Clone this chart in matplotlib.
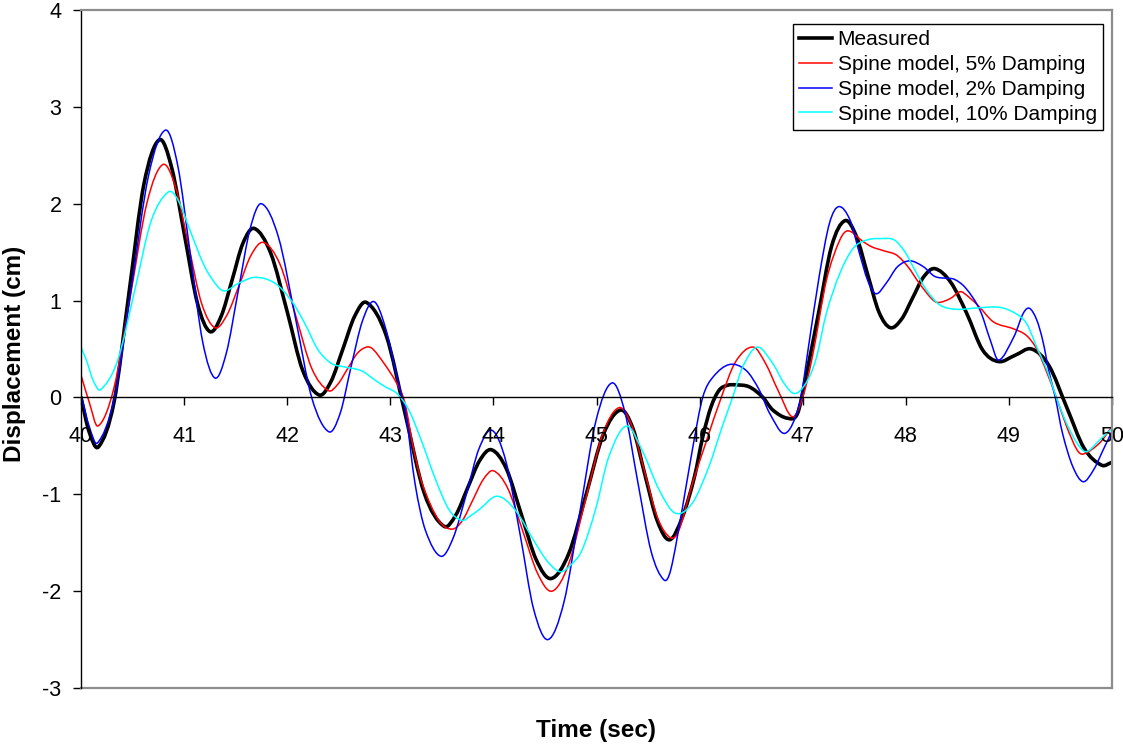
import matplotlib
matplotlib.use("Agg")
import matplotlib.pyplot as plt
from matplotlib.path import Path
from matplotlib.patches import PathPatch
from matplotlib.lines import Line2D

plt.rcParams['font.family'] = ['Liberation Sans', 'DejaVu Sans']
plt.rcParams['axes.unicode_minus'] = False

# Measured displacement
t_meas = [40.00, 40.08, 40.17, 40.32, 40.465, 40.61, 40.76, 40.88, 41.005, 41.13,
          41.25, 41.36, 41.465, 41.57, 41.68, 41.84, 42.00, 42.15, 42.31, 42.425,
          42.54, 42.655, 42.77, 42.96, 43.145, 43.33, 43.52, 43.635, 43.75, 43.865,
          43.98, 44.125, 44.27, 44.415, 44.56, 44.73, 44.90, 45.065, 45.235, 45.355,
          45.47, 45.59, 45.71, 45.835, 45.95, 46.03, 46.11, 46.19, 46.27, 46.35,
          46.48, 46.61, 46.71, 46.855, 46.95, 47.03, 47.15, 47.28, 47.41, 47.52,
          47.63, 47.74, 47.85, 47.96, 48.065, 48.17, 48.28, 48.435, 48.59, 48.745,
          48.90, 49.06, 49.22, 49.39, 49.56, 49.73, 49.90, 50.00]
d_meas = [0.00, -0.36, -0.51, -0.05, 1.075, 2.20, 2.66, 2.37, 1.67, 0.97,
          0.68, 0.84, 1.21, 1.59, 1.745, 1.49, 0.885, 0.28, 0.025, 0.165,
          0.50, 0.84, 0.98, 0.64, -0.175, -0.99, -1.33, -1.215, -0.935, -0.655,
          -0.54, -0.735, -1.205, -1.675, -1.87, -1.615, -1.0, -0.385, -0.13, -0.325,
          -0.80, -1.275, -1.47, -1.23, -0.82, -0.41, -0.10, 0.075, 0.125, 0.13,
          0.11, 0.005, -0.13, -0.215, -0.165, 0.21, 0.85, 1.56, 1.825, 1.665,
          1.27, 0.88, 0.72, 0.81, 1.025, 1.24, 1.33, 1.19, 0.87, 0.49,
          0.37, 0.435, 0.50, 0.325, -0.10, -0.525, -0.70, -0.67]

# Spine model, 5% damping
t_5 = [40.00, 40.08, 40.165, 40.32, 40.48, 40.64, 40.795, 40.92, 41.045, 41.17,
       41.30, 41.415, 41.535, 41.65, 41.77, 41.93, 42.085, 42.24, 42.40, 42.49,
       42.585, 42.68, 42.77, 42.83, 42.95, 43.06, 43.14, 43.22, 43.31, 43.47,
       43.60, 43.70, 43.80, 43.90, 44.00, 44.14, 44.285, 44.43, 44.57, 44.73,
       44.895, 45.06, 45.22, 45.345, 45.47, 45.595, 45.72, 45.80, 45.93, 46.06,
       46.21, 46.35, 46.52, 46.64, 46.76, 46.90, 47.00, 47.10, 47.23, 47.36,
       47.44, 47.585, 47.67, 47.80, 47.91, 48.02, 48.13, 48.25, 48.31, 48.43,
       48.52, 48.56, 48.70, 48.85, 49.04, 49.17, 49.27, 49.36, 49.46, 49.56,
       49.66, 49.72, 49.88, 50.00]
d_5 = [0.23, -0.05, -0.295, 0.10, 1.055, 2.01, 2.405, 2.16, 1.56, 0.97,
       0.72, 0.85, 1.16, 1.47, 1.60, 1.375, 0.835, 0.295, 0.07, 0.135,
       0.295, 0.455, 0.52, 0.50, 0.335, 0.15, -0.05, -0.50, -0.89, -1.27,
       -1.36, -1.27, -1.06, -0.85, -0.757, -0.94, -1.38, -1.82, -2.0, -1.72,
       -1.05, -0.38, -0.105, -0.30, -0.78, -1.25, -1.45, -1.37, -0.89, -0.47,
       0.0, 0.37, 0.52, 0.35, 0.075, -0.20, 0.0, 0.455, 1.21, 1.625,
       1.72, 1.61, 1.555, 1.51, 1.47, 1.35, 1.18, 1.02, 0.98, 1.02,
       1.09, 1.08, 0.95, 0.78, 0.71, 0.64, 0.50, 0.28, 0.0, -0.30,
       -0.54, -0.585, -0.47, -0.30]

# Spine model, 2% damping
t_2 = [40.00, 40.08, 40.16, 40.325, 40.49, 40.655, 40.82, 40.94, 41.06, 41.18,
       41.30, 41.41, 41.525, 41.64, 41.75, 41.915, 42.08, 42.24, 42.405, 42.515,
       42.62, 42.73, 42.84, 42.95, 43.08, 43.15, 43.24, 43.34, 43.49, 43.61,
       43.74, 43.86, 43.987, 44.12, 44.26, 44.39, 44.53, 44.685, 44.84, 44.995,
       45.15, 45.275, 45.40, 45.53, 45.655, 45.72, 45.835, 45.93, 46.03, 46.13,
       46.29, 46.45, 46.58, 46.68, 46.83, 46.97, 47.06, 47.16, 47.26, 47.35,
       47.46, 47.55, 47.63, 47.71, 47.81, 47.92, 48.04, 48.17, 48.28, 48.39,
       48.47, 48.58, 48.72, 48.82, 48.90, 49.05, 49.14, 49.20, 49.27, 49.33,
       49.39, 49.45, 49.52, 49.62, 49.72, 49.82, 49.915, 50.00]
d_2 = [0.03, -0.30, -0.47, 0.0, 1.145, 2.29, 2.76, 2.385, 1.48, 0.575,
       0.20, 0.46, 1.10, 1.74, 2.0, 1.655, 0.82, -0.01, -0.355, -0.16,
       0.32, 0.79, 0.99, 0.73, 0.145, -0.165, -0.89, -1.37, -1.64, -1.45,
       -0.99, -0.53, -0.34, -0.655, -1.42, -2.185, -2.50, -2.11, -1.175, -0.24,
       0.15, -0.15, -0.87, -1.59, -1.885, -1.78, -1.13, -0.54, 0.0, 0.21,
       0.34, 0.28, 0.075, -0.165, -0.37, -0.06, 0.55, 1.25, 1.80, 1.97,
       1.83, 1.49, 1.21, 1.07, 1.18, 1.35, 1.41, 1.35, 1.25, 1.23,
       1.22, 1.13, 0.90, 0.59, 0.385, 0.63, 0.87, 0.92, 0.80, 0.58,
       0.26, 0.0, -0.37, -0.715, -0.87, -0.75, -0.54, -0.35]

# Spine model, 10% damping
t_10 = [40.00, 40.06, 40.12, 40.19, 40.355, 40.52, 40.68, 40.845, 40.94, 41.07,
        41.20, 41.33, 41.40, 41.53, 41.69, 41.88, 42.04, 42.17, 42.30, 42.43,
        42.53, 42.72, 42.85, 42.95, 43.065, 43.18, 43.31, 43.44, 43.57, 43.695,
        43.78, 43.86, 44.035, 44.21, 44.41, 44.53, 44.65, 44.76, 44.86, 44.99,
        45.12, 45.29, 45.44, 45.61, 45.765, 45.93, 46.09, 46.22, 46.32, 46.42,
        46.56, 46.71, 46.82, 46.92, 47.03, 47.13, 47.23, 47.36, 47.49, 47.62,
        47.76, 47.89, 48.00, 48.07, 48.20, 48.33, 48.49, 48.70, 48.91, 49.06,
        49.17, 49.27, 49.37, 49.46, 49.56, 49.66, 49.75, 49.88, 50.00]
d_10 = [0.52, 0.36, 0.17, 0.08, 0.38, 1.10, 1.82, 2.12, 2.04, 1.69,
        1.35, 1.14, 1.10, 1.18, 1.24, 1.18, 1.0, 0.765, 0.49, 0.35,
        0.32, 0.275, 0.18, 0.11, 0.04, -0.13, -0.47, -0.85, -1.16, -1.27,
        -1.22, -1.16, -1.02, -1.16, -1.51, -1.70, -1.80, -1.72, -1.575, -1.16,
        -0.61, -0.295, -0.54, -0.96, -1.195, -1.09, -0.715, -0.30, 0.0, 0.32,
        0.52, 0.35, 0.145, 0.04, 0.145, 0.40, 0.87, 1.28, 1.54, 1.625,
        1.64, 1.625, 1.49, 1.35, 1.11, 0.955, 0.91, 0.925, 0.93, 0.87,
        0.765, 0.52, 0.28, 0.0, -0.27, -0.47, -0.56, -0.44, -0.32]

labels = ['Measured', 'Spine model, 5% Damping', 'Spine model, 2% Damping',
          'Spine model, 10% Damping']
x_ticks = list(range(40, 51))
y_ticks = list(range(-3, 5))


def smooth_path(t, v):
    # Excel-style smoothed line: Bezier segments through the read points
    n = len(t)
    slopes = []
    for i in range(n):
        a = max(i - 1, 0)
        b = min(i + 1, n - 1)
        slopes.append((v[b] - v[a]) / (t[b] - t[a]))
    verts = [(t[0], v[0])]
    codes = [Path.MOVETO]
    for i in range(n - 1):
        h = t[i + 1] - t[i]
        verts += [(t[i] + h / 3, v[i] + slopes[i] * h / 3),
                  (t[i + 1] - h / 3, v[i + 1] - slopes[i + 1] * h / 3),
                  (t[i + 1], v[i + 1])]
        codes += [Path.CURVE4] * 3
    return Path(verts, codes)


fig = plt.figure(figsize=(11.23, 7.44), dpi=100)
ax = fig.add_axes([81 / 1123, 1 - 688 / 744, 1031 / 1123, 678 / 744])

series = [(t_meas, d_meas, 'black', 2.6),
          (t_5, d_5, '#ff0000', 1.1),
          (t_2, d_2, '#0000ff', 1.1),
          (t_10, d_10, '#00ffff', 1.1)]
handles = []
for (t, v, color, lw), lab in zip(series, labels):
    ax.add_patch(PathPatch(smooth_path(t, v), facecolor='none', edgecolor=color,
                           lw=lw, capstyle='round', joinstyle='round'))
    handles.append(Line2D([], [], color=color, lw=lw, label=lab))

ax.set_xlim(40, 50)
ax.set_ylim(-3, 4)
ax.set_xticks(x_ticks)
ax.set_yticks(y_ticks)

# x axis crosses at zero, plot-area frame in grey
ax.spines['bottom'].set_position(('data', 0))
ax.spines['bottom'].set_color('black')
ax.spines['bottom'].set_linewidth(1.0)
ax.spines['left'].set_color('black')
ax.spines['left'].set_linewidth(1.0)
for side in ['top', 'right']:
    ax.spines[side].set_color('#8c8c8c')
    ax.spines[side].set_linewidth(1.6)
ax.plot([0, 1], [0, 0], transform=ax.transAxes, color='#8c8c8c', lw=1.6, clip_on=False)

ax.tick_params(axis='x', direction='out', length=5.5, width=1, pad=15, labelsize=15.5)
ax.tick_params(axis='y', direction='out', length=6, width=1, pad=8, labelsize=15.5)

leg = ax.legend(handles=handles, loc='upper right',
                bbox_to_anchor=(1103 / 1123, 1 - 24 / 744),
                bbox_transform=fig.transFigure, borderaxespad=0, fontsize=15,
                frameon=True, fancybox=False, edgecolor='black', framealpha=1,
                handlelength=1.6, handletextpad=0.25, labelspacing=0.28,
                borderpad=0.3)
leg.get_frame().set_linewidth(1.0)

fig.text(596 / 1123, 1 - 730 / 744, 'Time (sec)', ha='center', va='center',
         fontsize=17.5, fontweight='bold')
fig.text(15 / 1123, 1 - 354 / 744, 'Displacement (cm)', ha='center', va='center',
         rotation=90, fontsize=17.5, fontweight='bold')

fig.savefig('out.png', dpi=100)
